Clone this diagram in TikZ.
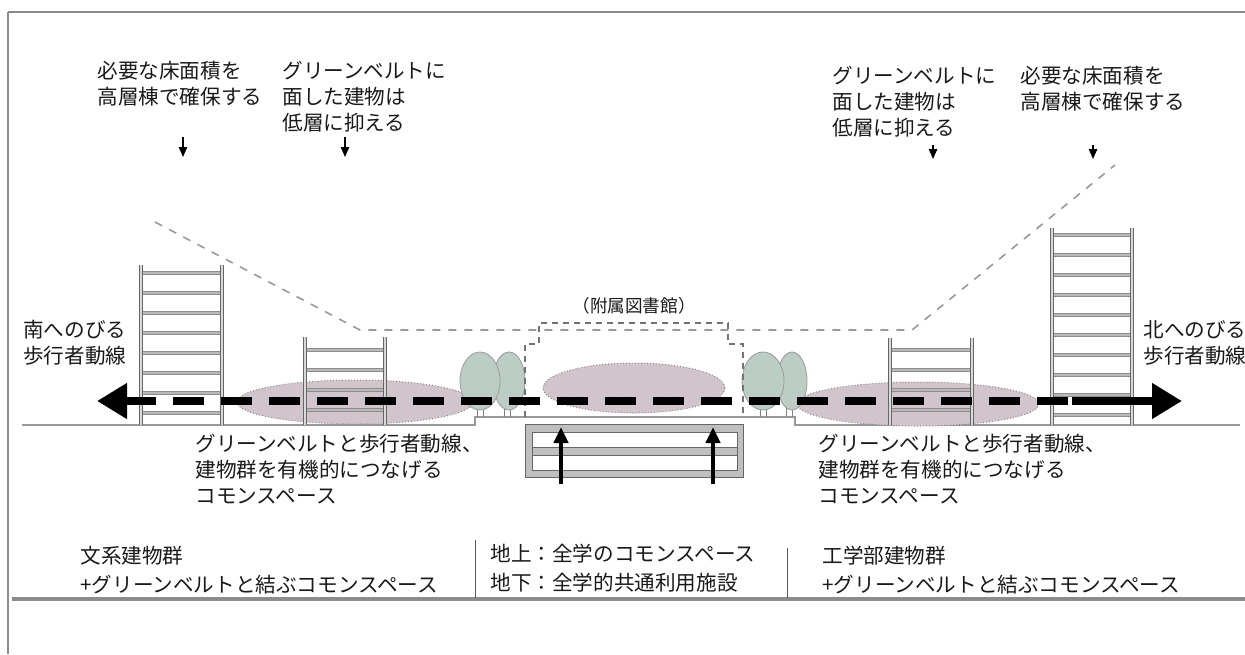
\documentclass[tikz,border=0pt]{standalone}
\usepackage{fontspec}
\newfontfamily\jp{Noto Sans CJK JP}
\usetikzlibrary{arrows.meta, positioning, calc, patterns}

\definecolor{treeGreen}{RGB}{188,205,198}
\definecolor{commonPink}{RGB}{212,196,206}

\begin{document}
\begin{tikzpicture}[
    x=0.5pt, y=-0.5pt,
    note/.style = {
        font=\jp\fontsize{10.3}{13}\selectfont,
        text=black!90,
        align=left,
        inner sep=0pt,
        anchor=base west,
    },
    legend/.style = {
        note,
        font=\jp\fontsize{10.3}{14.3}\selectfont,
    },
    frameLine/.style = {
        draw=black!45,
    },
    ground/.style = {
        draw=black!40,
        line width=0.8pt,
    },
    envelope/.style = {
        draw=black!40,
        line width=0.8pt,
        dash pattern=on 4pt off 4pt,
    },
    libraryEdge/.style = {
        draw=black!55,
        line width=0.6pt,
        dash pattern=on 3pt off 2.5pt,
    },
    post/.style = {
        draw=black!60,
        double=gray!30,
        double distance=1pt,
        line width=0.35pt,
    },
    floorBar/.style = {
        draw=black!45,
        double=gray!55,
        double distance=1pt,
        line width=0.3pt,
    },
    common/.style = {
        fill=commonPink,
        postaction={pattern=crosshatch dots, pattern color=black!22},
        draw=black!50,
        densely dotted,
        line width=0.5pt,
    },
    tree/.style = {
        fill=treeGreen,
        draw=black!40,
        line width=0.4pt,
    },
    trunk/.style = {
        draw=black!50,
        line width=0.4pt,
    },
    vault/.style = {
        fill=gray!50,
        draw=black!60,
        line width=0.4pt,
    },
    walk/.style = {
        line width=4pt,
        dash pattern=on 15.5pt off 8.5pt,
    },
    walkEnd/.style = {
        line width=4pt,
        -{Triangle[length=15pt, width=17pt]},
    },
    lift/.style = {
        line width=2pt,
        -{Triangle[length=8pt, width=7pt]},
    },
    marker/.style = {
        line width=0.7pt,
        -{Triangle[length=5pt, width=4.2pt]},
    },
]

\newcommand{\building}[4]{
    \foreach \y in {#4}
        \draw[floorBar] (#1,\y) -- (#2,\y);
    \draw[post] (#1,#3) -- (#1,425);
    \draw[post] (#2,#3) -- (#2,425);
}

\useasboundingbox (0,0) rectangle (1245,654);

\draw[frameLine, line width=1.2pt] (8,12) -- (1245,12);
\draw[frameLine, line width=0.6pt] (8,12) -- (8,654);
\draw[frameLine, line width=1.6pt] (12,599) -- (1245,599);
\draw[frameLine, draw=black!65, line width=0.5pt] (475,540) -- (475,598);
\draw[frameLine, draw=black!65, line width=0.5pt] (787,548) -- (787,598);

\draw[ground] (22,425) -- (475,425) -- (475,417) -- (795,417)
    -- (795,425) -- (1240,425);

\draw[common] (355,402) ellipse [x radius=118, y radius=22];
\draw[common] (634,388) ellipse [x radius=91, y radius=25];
\draw[common] (918,404) ellipse [x radius=121, y radius=22];

\building{141}{222}{265}{273,293,...,413}
\building{305}{385}{337}{350,370,390,410}
\building{890}{972}{338}{350,370,390,410}
\building{1052}{1132}{228}{235,255,...,415}

\foreach \x in {477,483,504,510,760,766,786,792}
    \draw[trunk] (\x,405) -- (\x,417);
\draw[tree] (509,381) ellipse [x radius=16, y radius=29];
\draw[tree] (480,381) ellipse [x radius=20, y radius=29];
\draw[tree] (792,381) ellipse [x radius=15, y radius=29];
\draw[tree] (763,381) ellipse [x radius=21, y radius=29];

\draw[envelope] (155,222) -- (360,330) -- (912,330) -- (1115,165);
\draw[libraryEdge] (525,417) -- (525,344) -- (539,344) -- (539,323)
    -- (728,323) -- (728,344) -- (743,344) -- (743,417);

\coordinate (South End) at (97,401);
\coordinate (North End) at (1182,401);
\draw[walk, {Triangle[length=15pt, width=17pt]}-] (South End)
    -- ($(North End)+(-110,0)$);
\draw[walkEnd] ($(North End)+(-110,0)$) -- (North End);

\draw[vault] (525,424) rectangle (743,477);
\draw[fill=white, draw=black!60, line width=0.4pt] (532,432) rectangle (737,470);
\draw[vault] (532,447) rectangle (737,455);

\coordinate (West Lift Foot) at (561,484);
\coordinate (West Lift Head) at (561,427);
\coordinate (East Lift Foot) at (713,484);
\coordinate (East Lift Head) at (713,427);
\draw[lift] (West Lift Foot) -- (West Lift Head);
\draw[lift] (East Lift Foot) -- (East Lift Head);

% multi-line notes sit on the baseline of their last line
\node[note] (South Tower Note) at (97,104) {必要な床面積を\\高層棟で確保する};
\node[note] (South Low Note) at (282,130) {グリーンベルトに\\面した建物は\\低層に抑える};
\node[note] (North Low Note) at (832,135) {グリーンベルトに\\面した建物は\\低層に抑える};
\node[note] (North Tower Note) at (1020,109) {必要な床面積を\\高層棟で確保する};

\coordinate (South Tower Mark) at (183,157);
\coordinate (South Low Mark) at (345,157);
\coordinate (North Low Mark) at (933,159);
\coordinate (North Tower Mark) at (1093,159);
\draw[marker] ($(South Tower Mark)+(0,-20)$) -- (South Tower Mark);
\draw[marker] ($(South Low Mark)+(0,-20)$) -- (South Low Mark);
\draw[marker] ($(North Low Mark)+(0,-14)$) -- (North Low Mark);
\draw[marker] ($(North Tower Mark)+(0,-14)$) -- (North Tower Mark);

\node[note] (South Path Note) at (23,363) {南へのびる\\歩行者動線};
\node[note] (North Path Note) at (1143,363) {北へのびる\\歩行者動線};

\node[note, anchor=base, font=\jp\fontsize{8.8}{11}\selectfont] (Library)
    at (634,312) {（附属図書館）};

\node[note] (South Common Note) at (195,503)
    {グリーンベルトと歩行者動線、\\建物群を有機的につなげる\\コモンスペース};
\node[note] (North Common Note) at (818,503)
    {グリーンベルトと歩行者動線、\\建物群を有機的につなげる\\コモンスペース};

\node[legend] (Humanities) at (80,592)
    {文系建物群\\+グリーンベルトと結ぶコモンスペース};
\node[legend] (Campus Core) at (490,590)
    {地上：全学のコモンスペース\\地下：全学的共通利用施設};
\node[legend] (Engineering) at (822,592)
    {工学部建物群\\+グリーンベルトと結ぶコモンスペース};

\end{tikzpicture}
\end{document}
